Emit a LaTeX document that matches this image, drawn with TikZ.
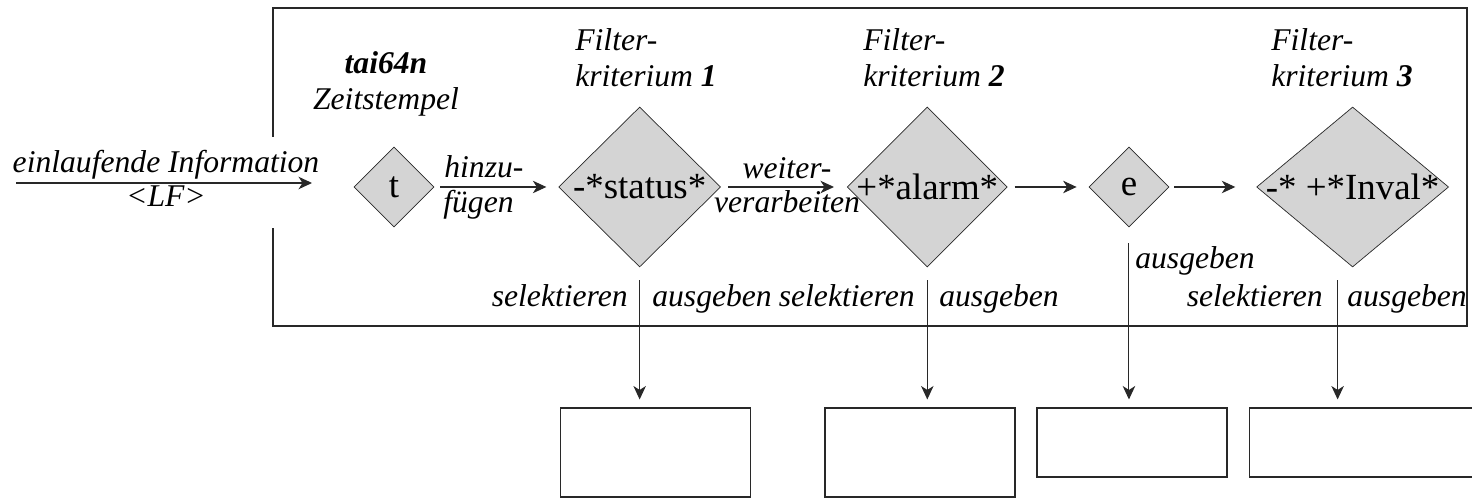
\documentclass[tikz,border=0pt]{standalone}
\usepackage{fontspec}
\setmainfont{Liberation Serif}
\usetikzlibrary{shapes.geometric, arrows.meta, positioning}
\definecolor{linegray}{RGB}{40,40,40}
\definecolor{condfill}{RGB}{212,212,212}
\newcommand{\condtext}[1]{\makebox[0pt]{#1}}

\begin{document}
\begin{tikzpicture}[
  x=0.02cm, y=-0.02cm,
  lbl/.style={font=\fontsize{18}{20.5}\selectfont\itshape, inner sep=0pt},
  cond/.style={diamond, draw=linegray, fill=condfill, inner sep=0pt,
    minimum width=#1, minimum height=3.2cm, font=\fontsize{21}{24}\selectfont},
  stamp/.style={cond=1.6cm, minimum height=1.6cm},
  outbox/.style={rectangle, draw=linegray, line width=0.6pt, minimum width=3.8cm, minimum height=#1},
  flow/.style={-{Stealth[length=0.27cm, width=0.25cm, inset=0.08cm]}, draw=linegray, line width=0.6pt}
]
\clip (0,0) rectangle (1472,502);

% Rahmen mit Luecke fuer den Eingang
\draw[linegray, line width=0.6pt] (273,137) -- (273,8) -- (1467,8) -- (1467,326) -- (273,326) -- (273,228);

% Eingang
\coordinate (inL) at (16,183);
\coordinate (inR) at (312,183);
\draw[flow] (inL) -- (inR);
\node[lbl, anchor=base] (inlbl) at (166,173) {einlaufende Information};
\node[lbl, anchor=base] (lf) at (166,207) {<LF>};

% Verarbeitungskette
\node[stamp] (t) at (394,187) {\condtext{t}};
\node[cond=3.24cm, right=2.48cm of t] (status) {\condtext{-*status*}};
\node[cond=3.2cm, right=2.52cm of status] (alarm) {\condtext{+*alarm*}};
\node[stamp, right=1.62cm of alarm] (e) {\condtext{e}};
\node[cond=3.84cm, right=1.74cm of e] (inval) {\condtext{-* +*Inval*}};

\draw[flow, shorten <=0.12cm, shorten >=0.24cm] (t) -- (status);
\draw[flow, shorten <=0.14cm, shorten >=0.26cm] (status) -- (alarm);
\draw[flow, shorten <=0.14cm, shorten >=0.24cm] (alarm) -- (e);
\draw[flow, shorten <=0.10cm, shorten >=0.42cm] (e) -- (inval);

\node[lbl, anchor=base west] (hin) at (444,178) {hinzu-};
\node[lbl, anchor=base west] (fue) at (443,213) {fügen};
\node[lbl, anchor=base] (wei) at (787,179) {weiter-};
\node[lbl, anchor=base] (ver) at (787,213) {verarbeiten};

% Beschriftungen oben (base = letzte Zeile)
\node[lbl, align=center, anchor=base] (tai) at (386,110) {\textbf{tai64n}\\Zeitstempel};
\node[lbl, align=left, anchor=base west] (filt1) at (575,87) {Filter-\\kriterium \textbf{1}};
\node[lbl, align=left, anchor=base west] (filt2) at (863,87) {Filter-\\kriterium \textbf{2}};
\node[lbl, align=left, anchor=base west] (filt3) at (1271,87) {Filter-\\kriterium \textbf{3}};

% Ausgaben
\node[outbox=1.78cm] (out1) at (655.5,452.5) {};
\node[outbox=1.78cm] (out2) at (920,452.5) {};
\node[outbox=1.38cm] (out3) at (1132,442.5) {};
\node[outbox=1.38cm, minimum width=4.82cm] (out4) at (1369.5,442.5) {};

\draw[flow, shorten <=0.26cm, shorten >=0.16cm] (status.south) -- (status.south |- out1.north);
\draw[flow, shorten <=0.26cm, shorten >=0.16cm] (alarm.south) -- (alarm.south |- out2.north);
\draw[flow, shorten <=0.32cm, shorten >=0.16cm] (e.south) -- (e.south |- out3.north);
\draw[flow, shorten <=0.26cm, shorten >=0.16cm] ([xshift=-0.3cm]inval.south) -- ([xshift=-0.3cm]inval.south |- out4.north);

\node[lbl, anchor=base east] (sel1) at (628,307) {selektieren};
\node[lbl, anchor=base west] (aus1) at (652,307) {ausgeben};
\node[lbl, anchor=base east] (sel2) at (915,307) {selektieren};
\node[lbl, anchor=base west] (aus2) at (939,307) {ausgeben};
\node[lbl, anchor=base west] (aus3) at (1135,269) {ausgeben};
\node[lbl, anchor=base east] (sel4) at (1323,307) {selektieren};
\node[lbl, anchor=base west] (aus4) at (1347,307) {ausgeben};
\end{tikzpicture}
\end{document}
